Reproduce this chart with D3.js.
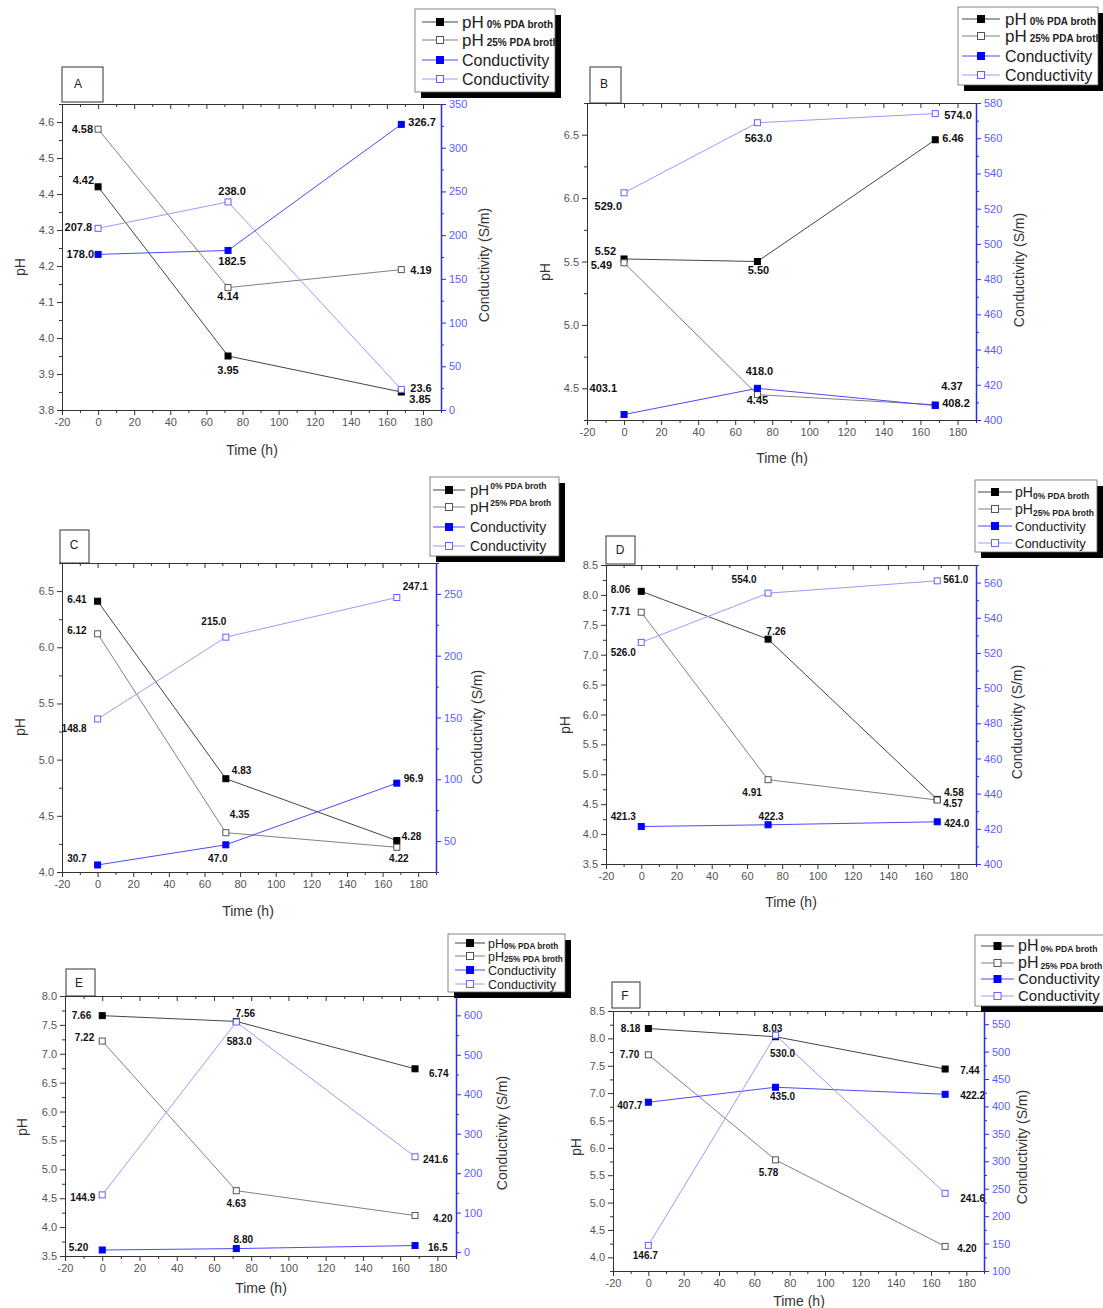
<!DOCTYPE html>
<html>
<head>
<meta charset="utf-8">
<script src="https://cdn.jsdelivr.net/npm/d3@7"></script>
<style>
  body { margin: 0; background: #fff; }
  svg { display: block; font-family: "Liberation Sans", Arial, sans-serif; }
</style>
</head>
<body>
<svg id="chart" width="1103" height="1308"></svg>
<script>
// sampling times (h), shared by all panels
const TIMES = [0, 72, 168];
const TIME_TICKS = [-20, 0, 20, 40, 60, 80, 100, 120, 140, 160, 180];
const TIME_DOMAIN = [-20, 190];

// A
const A_PH0 = [4.42, 3.95, 3.85];
const A_PH25 = [4.58, 4.14, 4.19];
const A_COND0 = [178.0, 182.5, 326.7];
const A_COND25 = [207.8, 238.0, 23.6];
const A_PH_TICKS = [3.8, 3.9, 4.0, 4.1, 4.2, 4.3, 4.4, 4.5, 4.6];
const A_COND_TICKS = [0, 50, 100, 150, 200, 250, 300, 350];

// B
const B_PH0 = [5.52, 5.50, 6.46];
const B_PH25 = [5.49, 4.45, 4.37];
const B_COND0 = [403.1, 418.0, 408.2];
const B_COND25 = [529.0, 568.8, 574.0];
const B_COND25_TEXT = ['529.0', '563.0', '574.0'];
const B_PH_TICKS = [4.5, 5.0, 5.5, 6.0, 6.5];
const B_COND_TICKS = [400, 420, 440, 460, 480, 500, 520, 540, 560, 580];

// C
const C_PH0 = [6.41, 4.83, 4.28];
const C_PH25 = [6.12, 4.35, 4.22];
const C_COND0 = [30.7, 47.0, 96.9];
const C_COND25 = [148.8, 215.0, 247.1];
const C_PH_TICKS = [4.0, 4.5, 5.0, 5.5, 6.0, 6.5];
const C_COND_TICKS = [50, 100, 150, 200, 250];

// D
const D_PH0 = [8.06, 7.26, 4.58];
const D_PH25 = [7.71, 4.91, 4.57];
const D_COND0 = [421.3, 422.3, 424.0];
const D_COND25 = [526.0, 554.0, 561.0];
const D_PH_TICKS = [3.5, 4.0, 4.5, 5.0, 5.5, 6.0, 6.5, 7.0, 7.5, 8.0, 8.5];
const D_COND_TICKS = [400, 420, 440, 460, 480, 500, 520, 540, 560];

// E
const E_PH0 = [7.66, 7.56, 6.74];
const E_PH25 = [7.22, 4.63, 4.20];
const E_COND0 = [5.20, 8.80, 16.5];
const E_COND25 = [144.9, 583.0, 241.6];
const E_PH_TICKS = [3.5, 4.0, 4.5, 5.0, 5.5, 6.0, 6.5, 7.0, 7.5, 8.0];
const E_COND_TICKS = [0, 100, 200, 300, 400, 500, 600];

// F
const F_PH0 = [8.18, 8.03, 7.44];
const F_PH25 = [7.70, 5.78, 4.20];
const F_COND0 = [407.7, 435.0, 422.2];
const F_COND25 = [146.7, 530.0, 241.6];
const F_PH_TICKS = [4.0, 4.5, 5.0, 5.5, 6.0, 6.5, 7.0, 7.5, 8.0, 8.5];
const F_COND_TICKS = [100, 150, 200, 250, 300, 350, 400, 450, 500, 550];

const LEGEND_SUBS = ['0% PDA broth', '25% PDA broth'];

const STYLE = {
  ph0:  { line: '#444', fill: '#000', stroke: '#000' },
  ph25: { line: '#808080', fill: '#fff', stroke: '#555' },
  c0:   { line: '#4a4aff', fill: '#0000ff', stroke: '#0000ff' },
  c25:  { line: '#9a9aff', fill: '#fff', stroke: '#6262ff' }
};

const fmtPH = v => v.toFixed(2);
const fmtCond = v => v < 100 ? v.toPrecision(3) : v.toFixed(1);

const svg = d3.select('#chart');

function minorTicks(domain, step, majors) {
  const out = [];
  const start = Math.ceil(domain[0] / step - 1e-9) * step;
  for (let v = start; v <= domain[1] + 1e-9; v += step) {
    const r = Math.round(v * 1000) / 1000;
    if (!majors.some(m => Math.abs(m - r) < 1e-6)) out.push(r);
  }
  return out;
}

function addAxis(g, make, scale, majors, minors, transform, fmt, lineColor, textColor, lineW) {
  const major = g.append('g').attr('transform', transform)
    .call(make(scale).tickValues(majors).tickSize(5).tickSizeOuter(0).tickPadding(3)
      .tickFormat(fmt || (() => '')));
  major.select('.domain').attr('stroke', lineColor).attr('stroke-width', lineW || 1);
  major.selectAll('.tick line').attr('stroke', lineColor);
  major.selectAll('.tick text')
    .attr('fill', textColor || '#555')
    .attr('font-size', 11)
    .attr('font-family', '"Liberation Sans", Arial, sans-serif');

  const minor = g.append('g').attr('transform', transform)
    .call(make(scale).tickValues(minors).tickSize(3).tickSizeOuter(0).tickFormat(() => ''));
  minor.select('.domain').remove();
  minor.selectAll('.tick line').attr('stroke', lineColor);
}

function drawLegend(L, id) {
  const g = svg.append('g');
  g.append('rect').attr('x', L.x + 6).attr('y', L.y + 6).attr('width', L.w).attr('height', L.h).attr('fill', '#000');
  g.append('rect').attr('x', L.x).attr('y', L.y).attr('width', L.w).attr('height', L.h)
    .attr('fill', '#fff').attr('stroke', '#666').attr('stroke-width', 0.8);

  svg.append('defs').append('clipPath').attr('id', id)
    .append('rect').attr('x', L.x).attr('y', L.y).attr('width', L.w).attr('height', L.h);

  const keys = ['ph0', 'ph25', 'c0', 'c25'];
  keys.forEach((k, i) => {
    const cy = L.rows[i];
    const st = STYLE[k];
    g.append('line').attr('x1', L.lx0).attr('x2', L.lx1).attr('y1', cy).attr('y2', cy)
      .attr('stroke', st.line).attr('stroke-width', 1);
    const mx = (L.lx0 + L.lx1) / 2;
    g.append('rect').attr('x', mx - 3.5).attr('y', cy - 3.5).attr('width', 7).attr('height', 7)
      .attr('fill', st.fill).attr('stroke', st.stroke).attr('stroke-width', 1);

    const t = g.append('text').attr('clip-path', `url(#${id})`)
      .attr('x', L.tx).attr('y', cy + L.size * 0.36)
      .attr('fill', '#222').attr('font-size', L.size);
    if (i < 2) {
      t.append('tspan').attr('font-size', L.size + L.phPlus).text('pH');
      t.append('tspan')
        .attr('font-size', L.sub).attr('font-weight', 'bold')
        .attr('dx', L.gap).attr('dy', L.subDy)
        .text(LEGEND_SUBS[i]);
    } else {
      t.text('Conductivity');
    }
  });
}

function drawPanel(p) {
  const g = svg.append('g');
  const x = d3.scaleLinear().domain(TIME_DOMAIN).range([p.left, p.right]);
  const yPh = d3.scaleLinear().domain(p.phDomain).range([p.bottom, p.top]);
  const yC = d3.scaleLinear().domain(p.condDomain).range([p.bottom, p.top]);

  const xMinor = minorTicks(TIME_DOMAIN, 10, TIME_TICKS);
  addAxis(g, d3.axisBottom, x, TIME_TICKS, xMinor, `translate(0,${p.bottom})`, d => String(d), '#333', '#555');
  addAxis(g, d3.axisBottom, x, TIME_TICKS, xMinor, `translate(0,${p.top})`, null, '#333');
  addAxis(g, d3.axisLeft, yPh, p.phTicks, minorTicks(p.phDomain, p.phMinor, p.phTicks),
    `translate(${p.left},0)`, d => d.toFixed(1), '#333', '#555');
  addAxis(g, d3.axisRight, yC, p.condTicks, minorTicks(p.condDomain, p.condMinor, p.condTicks),
    `translate(${p.right},0)`, d => String(d), '#2a2aff', '#5c5cff', 1.5);

  const series = [
    { key: 'ph0', values: p.ph0, y: yPh, fmt: fmtPH, pos: p.pos[0] },
    { key: 'ph25', values: p.ph25, y: yPh, fmt: fmtPH, pos: p.pos[1] },
    { key: 'c0', values: p.c0, y: yC, fmt: fmtCond, pos: p.pos[2] },
    { key: 'c25', values: p.c25, y: yC, fmt: fmtCond, pos: p.pos[3], text: p.c25Text }
  ];

  series.forEach(s => {
    const st = STYLE[s.key];
    const line = d3.line().x((d, i) => x(TIMES[i])).y(d => s.y(d));
    g.append('path').datum(s.values).attr('d', line)
      .attr('fill', 'none').attr('stroke', st.line).attr('stroke-width', 1);
  });

  series.forEach(s => {
    const st = STYLE[s.key];
    g.selectAll(null).data(s.values).enter().append('rect')
      .attr('x', (d, i) => x(TIMES[i]) - 3)
      .attr('y', d => s.y(d) - 3)
      .attr('width', 6).attr('height', 6)
      .attr('fill', st.fill).attr('stroke', st.stroke).attr('stroke-width', 1);

    const anchors = { s: 'start', m: 'middle', e: 'end' };
    g.selectAll(null).data(s.values).enter().append('text')
      .attr('x', (d, i) => x(TIMES[i]) + s.pos[i][0])
      .attr('y', (d, i) => s.y(d) + s.pos[i][1])
      .attr('text-anchor', (d, i) => anchors[s.pos[i][2]])
      .attr('font-size', p.labelSize).attr('font-weight', 'bold').attr('fill', '#111')
      .text((d, i) => s.text ? s.text[i] : s.fmt(d));
  });

  // panel letter box
  g.append('rect').attr('x', p.box[0]).attr('y', p.box[1]).attr('width', p.box[2]).attr('height', p.box[3])
    .attr('fill', '#fff').attr('stroke', '#333').attr('stroke-width', 1);
  g.append('text').attr('x', p.box[4]).attr('y', p.box[5] + 4.5).attr('text-anchor', 'middle')
    .attr('font-size', 12).attr('fill', '#222').text(p.letter);

  // axis titles
  g.append('text').attr('x', p.timeTitle[0]).attr('y', p.timeTitle[1] + 5).attr('text-anchor', 'middle')
    .attr('font-size', 14).attr('fill', '#333').text('Time (h)');
  g.append('text').attr('transform', `translate(${p.phTitle[0] + 5},${p.phTitle[1]}) rotate(-90)`)
    .attr('text-anchor', 'middle').attr('font-size', 14).attr('fill', '#333').text('pH');
  g.append('text').attr('transform', `translate(${p.condTitle[0] + 5},${p.condTitle[1]}) rotate(-90)`)
    .attr('text-anchor', 'middle').attr('font-size', 14).attr('fill', '#333').text('Conductivity (S/m)');

  drawLegend(p.legend, 'leg-' + p.letter);
}

const PANELS = [
  {
    letter: 'A', left: 62, right: 441, top: 104, bottom: 410,
    phDomain: [3.8, 4.65], phTicks: A_PH_TICKS, phMinor: 0.05,
    condDomain: [0, 350], condTicks: A_COND_TICKS, condMinor: 25,
    ph0: A_PH0, ph25: A_PH25, c0: A_COND0, c25: A_COND25,
    labelSize: 11,
    pos: [
      [[-4, -3, 'e'], [0, 18, 'm'], [8, 11, 's']],
      [[-5, 4, 'e'], [0, 12, 'm'], [9, 4, 's']],
      [[-4, 4, 'e'], [4, 15, 'm'], [7, 2, 's']],
      [[-6, 3, 'e'], [4, -7, 'm'], [9, 3, 's']]
    ],
    box: [62, 67, 41, 35, 78, 83],
    timeTitle: [252, 450], phTitle: [20, 267], condTitle: [484, 265],
    legend: { x: 415, y: 9, w: 140, h: 83, rows: [22, 40, 60, 79], lx0: 422, lx1: 458, tx: 462,
      size: 16, phPlus: 1, sub: 10, subDy: 0, gap: 3 }
  },
  {
    letter: 'B', left: 587, right: 976, top: 103, bottom: 420,
    phDomain: [4.25, 6.75], phTicks: B_PH_TICKS, phMinor: 0.25,
    condDomain: [400, 580], condTicks: B_COND_TICKS, condMinor: 10,
    ph0: B_PH0, ph25: B_PH25, c0: B_COND0, c25: B_COND25, c25Text: B_COND25_TEXT,
    labelSize: 11,
    pos: [
      [[-8, -4, 'e'], [1, 12, 'm'], [7, 2, 's']],
      [[-12, 6, 'e'], [0, 9, 'm'], [6, -15, 's']],
      [[-7, -23, 'e'], [2, -13, 'm'], [7, 1, 's']],
      [[-2, 17, 'e'], [1, 19, 'm'], [9, 5, 's']]
    ],
    box: [590, 67, 31, 36, 604, 83],
    timeTitle: [782, 458], phTitle: [545, 272], condTitle: [1019, 270],
    legend: { x: 958, y: 7, w: 140, h: 78, rows: [19, 36, 56, 75], lx0: 962, lx1: 1000, tx: 1005,
      size: 16, phPlus: 1, sub: 10, subDy: 0, gap: 3 }
  },
  {
    letter: 'C', left: 62, right: 436, top: 563, bottom: 872,
    phDomain: [4.0, 6.75], phTicks: C_PH_TICKS, phMinor: 0.25,
    condDomain: [25, 275], condTicks: C_COND_TICKS, condMinor: 25,
    ph0: C_PH0, ph25: C_PH25, c0: C_COND0, c25: C_COND25,
    labelSize: 10,
    pos: [
      [[-11, 2, 'e'], [6, -5, 's'], [5, -1, 's']],
      [[-11, 0, 'e'], [4, -15, 's'], [2, 15, 'm']],
      [[-11, -3, 'e'], [-8, 17, 'm'], [7, -1, 's']],
      [[-11, 13, 'e'], [-12, -12, 'm'], [6, -7, 's']]
    ],
    box: [60, 530, 29, 33, 74, 544],
    timeTitle: [248, 911], phTitle: [20, 727], condTitle: [477, 727],
    legend: { x: 430, y: 477, w: 129, h: 79, rows: [490, 507, 527, 546], lx0: 433, lx1: 465, tx: 470,
      size: 14, phPlus: 1, sub: 8.5, subDy: -6, gap: 1 }
  },
  {
    letter: 'D', left: 606, right: 976, top: 565, bottom: 864,
    phDomain: [3.5, 8.5], phTicks: D_PH_TICKS, phMinor: 0.25,
    condDomain: [400, 570], condTicks: D_COND_TICKS, condMinor: 10,
    ph0: D_PH0, ph25: D_PH25, c0: D_COND0, c25: D_COND25,
    labelSize: 10,
    pos: [
      [[-11, 2, 'e'], [8, -4, 'm'], [7, -3, 's']],
      [[-11, 3, 'e'], [-16, 16, 'm'], [6, 7, 's']],
      [[-18, -7, 'm'], [3, -5, 'm'], [7, 5, 's']],
      [[-18, 14, 'm'], [-24, -10, 'm'], [6, 2, 's']]
    ],
    box: [606, 536, 29, 28, 620, 549],
    timeTitle: [791, 902], phTitle: [565, 725], condTitle: [1017, 722],
    legend: { x: 975, y: 480, w: 122, h: 72, rows: [492, 509, 526, 543], lx0: 978, lx1: 1012, tx: 1015,
      size: 13, phPlus: 1, sub: 8.5, subDy: 2, gap: 0 }
  },
  {
    letter: 'E', left: 65, right: 456, top: 996, bottom: 1256,
    phDomain: [3.5, 8.0], phTicks: E_PH_TICKS, phMinor: 0.25,
    condDomain: [-10, 649], condTicks: E_COND_TICKS, condMinor: 50,
    ph0: E_PH0, ph25: E_PH25, c0: E_COND0, c25: E_COND25,
    labelSize: 10,
    pos: [
      [[-11, 3, 'e'], [9, -4, 'm'], [14, 8, 's']],
      [[-8, 0, 'e'], [0, 16, 'm'], [18, 6, 's']],
      [[-14, 1, 'e'], [7, -6, 'm'], [13, 5, 's']],
      [[-7, 6, 'e'], [3, 23, 'm'], [8, 6, 's']]
    ],
    box: [66, 969, 29, 27, 79, 982],
    timeTitle: [261, 1288], phTitle: [22, 1127], condTitle: [502, 1133],
    legend: { x: 448, y: 934, w: 117, h: 58, rows: [943, 956, 970, 984], lx0: 455, lx1: 485, tx: 488,
      size: 12.5, phPlus: 0, sub: 8.2, subDy: 1.5, gap: 0 }
  },
  {
    letter: 'F', left: 613, right: 984, top: 1011, bottom: 1271,
    phDomain: [3.75, 8.5], phTicks: F_PH_TICKS, phMinor: 0.25,
    condDomain: [100, 574], condTicks: F_COND_TICKS, condMinor: 25,
    ph0: F_PH0, ph25: F_PH25, c0: F_COND0, c25: F_COND25,
    labelSize: 10,
    pos: [
      [[-8, 3, 'e'], [-3, -5, 'm'], [15, 5, 's']],
      [[-9, 3, 'e'], [-7, 16, 'm'], [12, 6, 's']],
      [[-6, 7, 'e'], [7, 13, 'm'], [15, 5, 's']],
      [[-3, 14, 'm'], [7, 22, 'm'], [15, 9, 's']]
    ],
    box: [612, 982, 28, 26, 625, 995],
    timeTitle: [799, 1301], phTitle: [576, 1147], condTitle: [1022, 1147],
    legend: { x: 975, y: 935, w: 140, h: 71, rows: [946, 963, 979, 996], lx0: 981, lx1: 1014, tx: 1018,
      size: 15, phPlus: 1, sub: 8.6, subDy: 1, gap: 2 }
  }
];

PANELS.forEach(drawPanel);
</script>
</body>
</html>
